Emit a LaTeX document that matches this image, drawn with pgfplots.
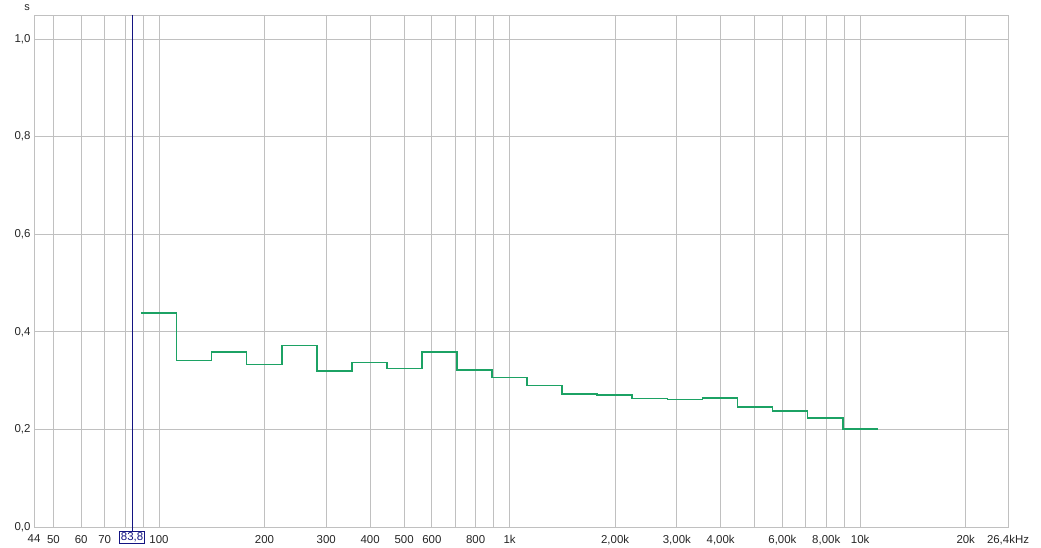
\documentclass[border=0pt]{standalone}
\usepackage{fontspec}
\setmainfont{Liberation Sans}
\usepackage{pgfplots}
\pgfplotsset{compat=1.18}
\definecolor{rtgreen}{RGB}{28,162,100}
\definecolor{gridgray}{RGB}{192,192,192}
\definecolor{cursorblue}{RGB}{20,20,130}
\begin{document}
\begin{tikzpicture}
\begin{axis}[
scale only axis,
width=974bp,height=512bp,
xmode=log,
xmin=44,xmax=26400,
ymin=0,ymax=1.049,
axis line style={gridgray},
tick style={draw=none},
xtick={44,50,60,70,100,200,300,400,500,600,800,1000,2000,3000,4000,6000,8000,10000,20000,26400},
xticklabels={44,50,60,70,100,200,300,400,500,600,800,1k,{2,00k},{3,00k},{4,00k},{6,00k},{8,00k},10k,20k,{26,4kHz}},
minor xtick={80,90,700,900,5000,7000,9000},
ytick={0,0.2,0.4,0.6,0.8,1.0},
yticklabel style={/pgf/number format/use comma,/pgf/number format/fixed,
  /pgf/number format/fixed zerofill,/pgf/number format/precision=1,xshift=0pt},
/pgf/number format/assume math mode=true,
ticklabel style={font=\fontsize{11.5}{13}\selectfont,text=black!85},
xticklabel style={yshift=-4.5pt},
grid=both,
major grid style={gridgray,line width=0.8pt},
minor grid style={gridgray,line width=0.8pt},
clip=false,
]
% 1/3-octave RT values, band lower edges
\addplot[const plot,rtgreen,line width=1.7pt] coordinates {
(89.1,0.438)
(112.2,0.341)
(141.3,0.359)
(177.8,0.333)
(223.9,0.372)
(281.8,0.320)
(354.8,0.337)
(446.7,0.325)
(562.3,0.358)
(707.9,0.322)
(891.3,0.306)
(1122,0.290)
(1413,0.272)
(1778,0.270)
(2239,0.263)
(2818,0.261)
(3548,0.264)
(4467,0.246)
(5623,0.237)
(7079,0.223)
(8913,0.201)
(11220,0.201)
};
% cursor
\addplot[cursorblue,line width=0.9pt] coordinates {(83.8,1.049) (83.8,-0.009)};
\node[draw=cursorblue,text=cursorblue,anchor=north,inner sep=1.3pt,
  font=\fontsize{11.5}{13}\selectfont,fill=white] at (axis cs:83.8,-0.009) {83,8};
\node[anchor=south east,font=\fontsize{11}{13}\selectfont,text=black!85,inner sep=0pt]
  at ([xshift=-4bp,yshift=4bp]current axis.north west) {s};
\end{axis}
\pgfresetboundingbox
\useasboundingbox ([xshift=-34bp,yshift=-21bp]current axis.south west)
  rectangle ([xshift=33bp,yshift=15bp]current axis.north east);
\end{tikzpicture}
\end{document}
